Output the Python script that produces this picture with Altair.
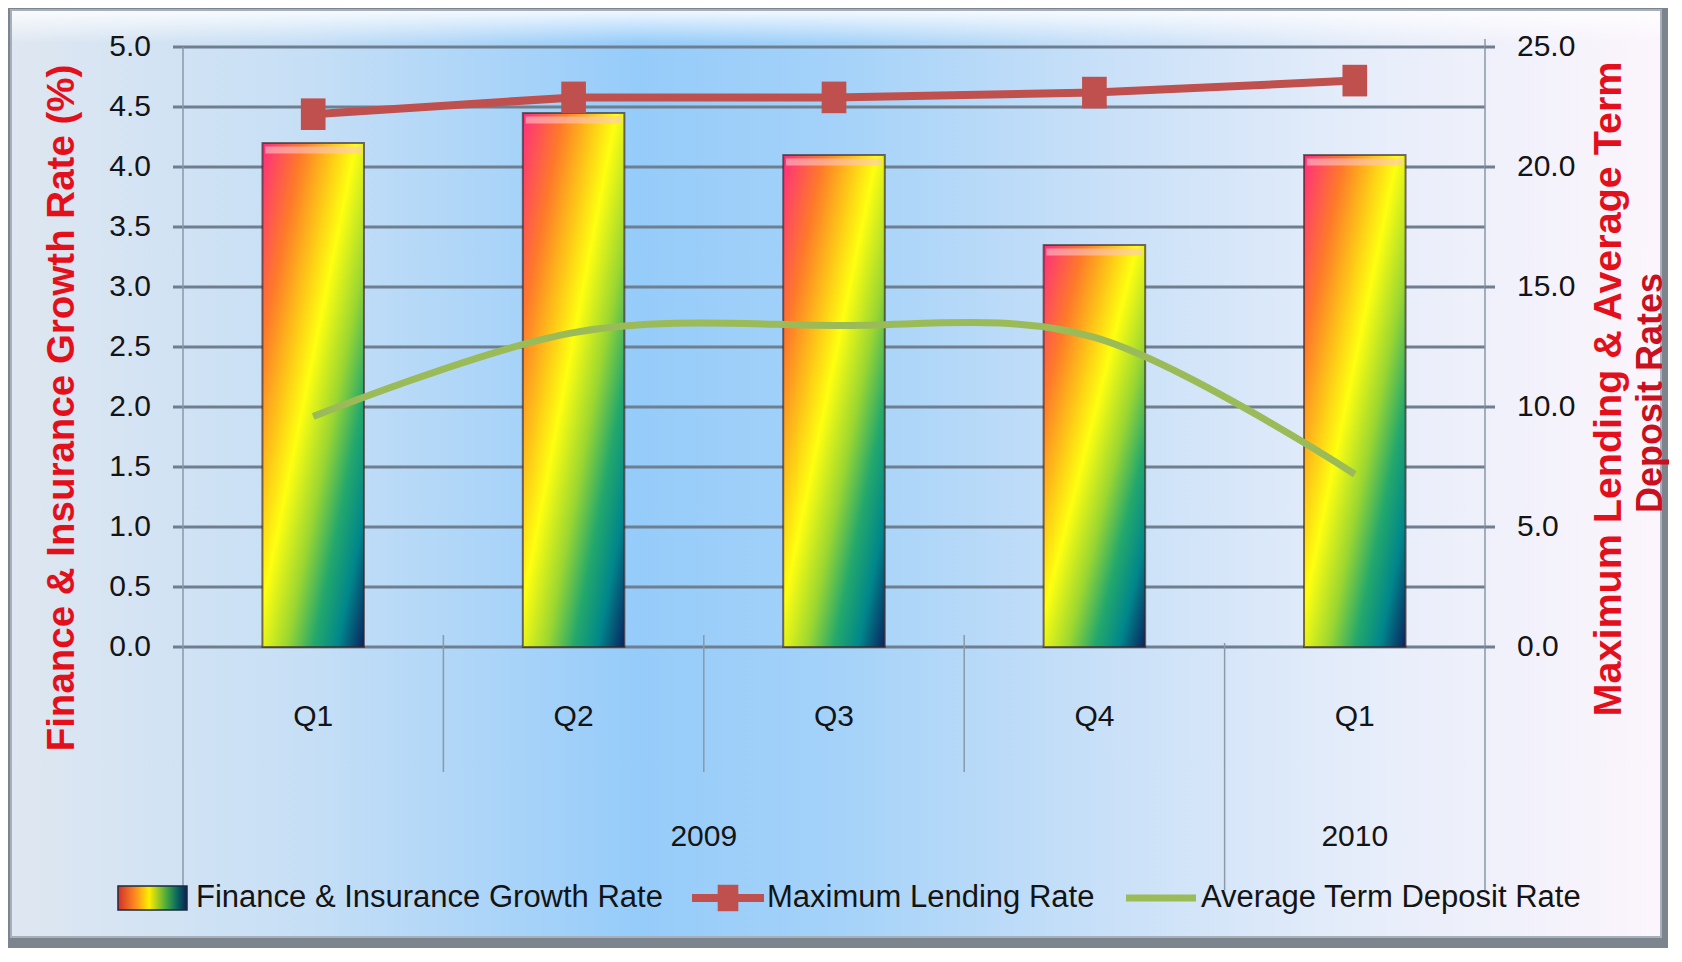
import altair as alt
import pandas as pd

# ---------------- data ----------------
categories = ["2009 Q1", "2009 Q2", "2009 Q3", "2009 Q4", "2010 Q1"]
quarters = ["Q1", "Q2", "Q3", "Q4", "Q1"]
finance_growth = [4.2, 4.45, 4.1, 3.35, 4.1]
max_lending = [22.2, 22.9, 22.9, 23.1, 23.6]
avg_deposit = [9.6, 13.1, 13.4, 12.9, 7.2]
left_ticks = [0.0, 0.5, 1.0, 1.5, 2.0, 2.5, 3.0, 3.5, 4.0, 4.5, 5.0]
right_ticks = [0.0, 5.0, 10.0, 15.0, 20.0, 25.0]
year_labels = ["2009", "2010"]
legend_labels = ["Finance & Insurance Growth Rate", "Maximum Lending Rate", "Average Term Deposit Rate"]
left_title = "Finance & Insurance Growth Rate (%)"
right_title = ["Maximum Lending & Average Term", "Deposit Rates"]

df = pd.DataFrame({
    "cat": categories,
    "quarter": quarters,
    "growth": finance_growth,
    "lending": max_lending,
    "deposit": avg_deposit,
})

# ---------------- layout / style ----------------
W, H = 1302, 600
FONT = "Liberation Sans"
GRID = "#6f7f90"
EDGE = "#8a98a8"
RED = "#c0504d"
GREEN = "#9bbb59"
TITLE_RED = "#e3101c"
TITLE_RED2 = "#c8101e"
TXT = "#141414"

x_scale = alt.Scale(domain=categories, paddingInner=0, paddingOuter=0)
yl_scale = alt.Scale(domain=[0, 5], nice=False, zero=True)
yr_scale = alt.Scale(domain=[0, 25], nice=False, zero=True)

one = pd.DataFrame({"k": [0]})

bar_grad = alt.LinearGradient(
    gradient="linear", x1=0, y1=0, x2=1, y2=1,
    stops=[
        alt.GradientStop(color="#ff2d80", offset=0.0),
        alt.GradientStop(color="#ff7a2a", offset=0.2),
        alt.GradientStop(color="#ffb81a", offset=0.32),
        alt.GradientStop(color="#ffff10", offset=0.46),
        alt.GradientStop(color="#9ad632", offset=0.62),
        alt.GradientStop(color="#24a86c", offset=0.75),
        alt.GradientStop(color="#00868c", offset=0.87),
        alt.GradientStop(color="#0b2260", offset=1.0),
    ],
)

bg_grad = alt.LinearGradient(
    gradient="linear", x1=0, y1=0, x2=1, y2=0,
    stops=[
        alt.GradientStop(color="#dfe7f1", offset=0.0),
        alt.GradientStop(color="#c6dff6", offset=0.18),
        alt.GradientStop(color="#96ccfa", offset=0.38),
        alt.GradientStop(color="#a4d2f9", offset=0.5),
        alt.GradientStop(color="#c8e0f8", offset=0.66),
        alt.GradientStop(color="#e6edfa", offset=0.82),
        alt.GradientStop(color="#fcf5fc", offset=1.0),
    ],
)

gloss_grad = alt.LinearGradient(
    gradient="linear", x1=0, y1=0, x2=0, y2=1,
    stops=[
        alt.GradientStop(color="rgba(255,255,255,0.85)", offset=0.0),
        alt.GradientStop(color="rgba(255,255,255,0.0)", offset=1.0),
    ],
)

swatch_grad = alt.LinearGradient(
    gradient="linear", x1=0, y1=0, x2=1, y2=0,
    stops=[
        alt.GradientStop(color="#d0302a", offset=0.0),
        alt.GradientStop(color="#ff8a20", offset=0.25),
        alt.GradientStop(color="#ffee00", offset=0.45),
        alt.GradientStop(color="#4aaa40", offset=0.7),
        alt.GradientStop(color="#0a6a60", offset=0.85),
        alt.GradientStop(color="#0b2050", offset=1.0),
    ],
)

text_style = dict(font=FONT, fontSize=30, color=TXT, baseline="middle")

# ---------------- frame ----------------
shadow = alt.Chart(one).mark_rect(fill="#7c848d").encode(
    x=alt.value(-175), x2=alt.value(W + 183), y=alt.value(-39), y2=alt.value(H + 301)
)
frame = alt.Chart(one).mark_rect(fill=bg_grad, stroke="#a7b0ba", strokeWidth=2).encode(
    x=alt.value(-172), x2=alt.value(W + 176), y=alt.value(-37), y2=alt.value(H + 290)
)
gloss = alt.Chart(one).mark_rect(fill=gloss_grad).encode(
    x=alt.value(-171), x2=alt.value(W + 175), y=alt.value(-36), y2=alt.value(-4)
)

# ---------------- grid (with outward ticks on the left) ----------------
grid = alt.Chart(pd.DataFrame({"v": left_ticks})).mark_rule(color=GRID, strokeWidth=3).encode(
    y=alt.Y("v:Q", scale=yl_scale, axis=None),
    x=alt.value(-10), x2=alt.value(W),
)
left_labels = alt.Chart(pd.DataFrame({"v": left_ticks})).mark_text(align="right", **text_style).encode(
    y=alt.Y("v:Q", scale=yl_scale, axis=None),
    x=alt.value(-32),
    text=alt.Text("v:Q", format=".1f"),
)
left_title_mark = alt.Chart(pd.DataFrame({"t": [left_title]})).mark_text(
    font=FONT, fontSize=38.5, fontWeight="bold", color=TITLE_RED, angle=270,
    align="center", baseline="middle",
).encode(x=alt.value(-121), y=alt.value(361), text="t:N")

# ---------------- category separators ----------------
sep_short = alt.Chart(pd.DataFrame({"cat": categories[1:4]})).mark_rule(color=EDGE, strokeWidth=1.5).encode(
    x=alt.X("cat:N", scale=x_scale, bandPosition=0, axis=None),
    y=alt.value(H - 12), y2=alt.value(H + 125),
)
sep_year = alt.Chart(pd.DataFrame({"cat": [categories[4]]})).mark_rule(color=EDGE, strokeWidth=1.5).encode(
    x=alt.X("cat:N", scale=x_scale, bandPosition=0, axis=None),
    y=alt.value(H - 4), y2=alt.value(H + 243),
)
edge_left = alt.Chart(pd.DataFrame({"cat": [categories[0]]})).mark_rule(color=EDGE, strokeWidth=1.5).encode(
    x=alt.X("cat:N", scale=x_scale, bandPosition=0, axis=None),
    y=alt.value(0), y2=alt.value(H + 243),
)
edge_right = alt.Chart(pd.DataFrame({"cat": [categories[4]]})).mark_rule(color=EDGE, strokeWidth=1.5).encode(
    x=alt.X("cat:N", scale=x_scale, bandPosition=1, axis=None),
    y=alt.value(-8), y2=alt.value(H + 243),
)

# ---------------- bars ----------------
bars = alt.Chart(df).mark_bar(
    fill=bar_grad, stroke="#3a2424", strokeWidth=2, strokeOpacity=0.65,
    width=alt.RelativeBandSize(0.39),
).encode(
    x=alt.X("cat:N", scale=x_scale, sort=categories, axis=None),
    y=alt.Y("growth:Q", scale=yl_scale, axis=None),
)
caps = alt.Chart(df).mark_tick(color="#ffc4c8", opacity=0.6, thickness=7, yOffset=7, size=96).encode(
    x=alt.X("cat:N", scale=x_scale, axis=None),
    y=alt.Y("growth:Q", scale=yl_scale, axis=None),
)

# ---------------- category labels ----------------
quarter_labels = alt.Chart(df).mark_text(align="center", **text_style).encode(
    x=alt.X("cat:N", scale=x_scale, axis=None),
    y=alt.value(H + 70),
    text="quarter:N",
)
year09 = alt.Chart(pd.DataFrame({"cat": [categories[1]], "year": [year_labels[0]]})).mark_text(
    align="center", **text_style
).encode(
    x=alt.X("cat:N", scale=x_scale, bandPosition=1, axis=None),
    y=alt.value(H + 190), text="year:N",
)
year10 = alt.Chart(pd.DataFrame({"cat": [categories[4]], "year": [year_labels[1]]})).mark_text(
    align="center", **text_style
).encode(
    x=alt.X("cat:N", scale=x_scale, bandPosition=0.5, axis=None),
    y=alt.value(H + 190), text="year:N",
)

# ---------------- legend (hand-built) ----------------
LY = 851
leg_swatch = alt.Chart(one).mark_rect(fill=swatch_grad, stroke="#1a2a40", strokeWidth=1.5).encode(
    x=alt.value(-65), x2=alt.value(4), y=alt.value(LY - 12), y2=alt.value(LY + 12)
)
leg_red_line = alt.Chart(one).mark_rule(color=RED, strokeWidth=8).encode(
    x=alt.value(509), x2=alt.value(581), y=alt.value(LY)
)
leg_red_pt = alt.Chart(one).mark_point(
    shape="M-0.78,-1L0.78,-1L0.78,1L-0.78,1Z", size=700, filled=True, fill=RED, opacity=1
).encode(x=alt.value(545), y=alt.value(LY))
leg_green_line = alt.Chart(one).mark_rule(color=GREEN, strokeWidth=7).encode(
    x=alt.value(943), x2=alt.value(1013), y=alt.value(LY)
)
leg_texts = []
for lbl, xpos in zip(legend_labels, [13, 584, 1018]):
    leg_texts.append(
        alt.Chart(pd.DataFrame({"t": [lbl]})).mark_text(
            font=FONT, fontSize=31, color=TXT, align="left", baseline="middle"
        ).encode(x=alt.value(xpos), y=alt.value(LY), text="t:N")
    )

layer_left = alt.layer(
    shadow, frame, gloss, grid, sep_short, sep_year, edge_left, edge_right,
    bars, caps, left_labels, left_title_mark, quarter_labels, year09, year10,
    leg_swatch, leg_red_line, leg_red_pt, leg_green_line, *leg_texts,
)

# ---------------- right-axis series ----------------
right_tick_marks = alt.Chart(pd.DataFrame({"v": right_ticks})).mark_rule(color=GRID, strokeWidth=3).encode(
    y=alt.Y("v:Q", scale=yr_scale, axis=None),
    x=alt.value(W), x2=alt.value(W + 10),
)
right_labels = alt.Chart(pd.DataFrame({"v": right_ticks})).mark_text(align="left", **text_style).encode(
    y=alt.Y("v:Q", scale=yr_scale, axis=None),
    x=alt.value(W + 32),
    text=alt.Text("v:Q", format=".1f"),
)
right_title_1 = alt.Chart(pd.DataFrame({"t": [right_title[0]]})).mark_text(
    font=FONT, fontSize=39.5, fontWeight="bold", color=TITLE_RED, angle=270,
    align="center", baseline="middle",
).encode(x=alt.value(W + 124), y=alt.value(342), text="t:N")
right_title_2 = alt.Chart(pd.DataFrame({"t": [right_title[1]]})).mark_text(
    font=FONT, fontSize=36, fontWeight="bold", color=TITLE_RED2, angle=270,
    align="center", baseline="middle",
).encode(x=alt.value(W + 166), y=alt.value(346), text="t:N")

deposit_line = alt.Chart(df).mark_line(color=GREEN, strokeWidth=7, interpolate="cardinal").encode(
    x=alt.X("cat:N", scale=x_scale, axis=None),
    y=alt.Y("deposit:Q", scale=yr_scale, axis=None),
)
lending_line = alt.Chart(df).mark_line(color=RED, strokeWidth=8).encode(
    x=alt.X("cat:N", scale=x_scale, axis=None),
    y=alt.Y("lending:Q", scale=yr_scale, axis=None),
)
lending_pts = alt.Chart(df).mark_point(
    shape="M-0.78,-1L0.78,-1L0.78,1L-0.78,1Z", size=1000, filled=True, fill=RED, opacity=1
).encode(
    x=alt.X("cat:N", scale=x_scale, axis=None),
    y=alt.Y("lending:Q", scale=yr_scale, axis=None),
)

layer_right = alt.layer(
    right_tick_marks, right_labels, right_title_1, right_title_2,
    deposit_line, lending_line, lending_pts,
)

chart = alt.layer(layer_left, layer_right).resolve_scale(y="independent").properties(
    width=W, height=H, padding=0
).configure_view(stroke=None)

chart.save("out.html", embed_options={"renderer": "svg", "actions": False})
